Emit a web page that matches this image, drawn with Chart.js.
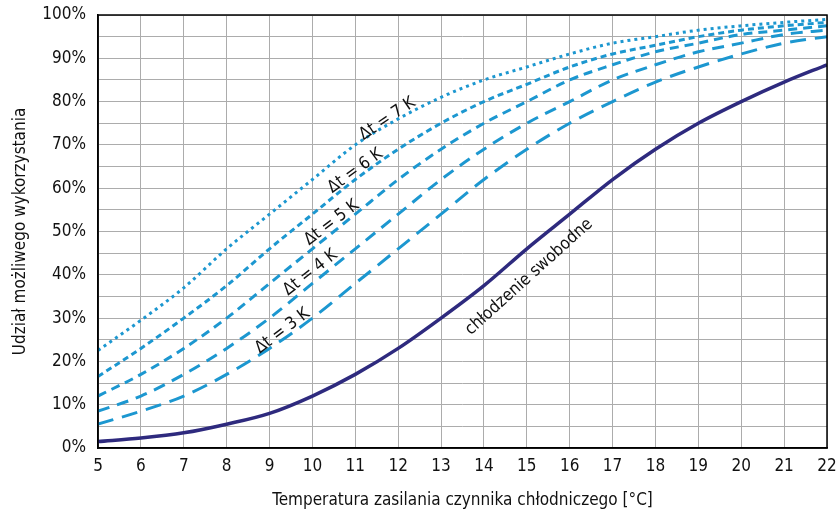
<!DOCTYPE html>
<html>
<head>
<meta charset="utf-8">
<script src="https://cdn.jsdelivr.net/npm/chart.js@4"></script>
<style>
  html, body { margin: 0; padding: 0; background: #fff; }
  #wrap { width: 840px; height: 521px; }
</style>
</head>
<body>
<div id="wrap"><canvas id="chart" width="840" height="521"></canvas></div>
<script>
const temps = [5,6,7,8,9,10,11,12,13,14,15,16,17,18,19,20,21,22];
const dt7 = [22.5,29.5,37,46,54,62,70,76,81,85,88,91,93.5,95,96.5,97.5,98.3,99];
const dt6 = [16.5,23,30,37.5,46,54,62,69,75,80,84,88,91,93,95,96.5,97.5,98.3];
const dt5 = [12,17,23,30,38,46,54,62,69,75,80,85,88.5,91.5,93.5,95.5,96.5,97.5];
const dt4 = [8.5,12,17,23,30,38,46,54,62,69,75,80,85,88.5,91.5,93.5,95.5,96.5];
const dt3 = [5.5,8.5,12,17,23,30,38,46,54,62,69,75,80,84.5,88,91,93.5,95];
const free = [1.5,2.3,3.5,5.5,8,12,17,23,30,37.5,46,54,62,69,75,80,84.5,88.5];

const font = "'Liberation Sans Narrow', 'DejaVu Sans Condensed', 'Liberation Sans', sans-serif";
const blue = '#1c97d0';
const navy = '#2e2a7e';

function pts(vals) { return temps.map((t, i) => ({x: t, y: vals[i]})); }

// rotated labels placed in data coordinates
const labels = [
  {text: 'Δt = 7 K', x: 11.75, y: 76, angle: -34},
  {text: 'Δt = 6 K', x: 11.0, y: 64, angle: -36},
  {text: 'Δt = 5 K', x: 10.45, y: 52, angle: -37},
  {text: 'Δt = 4 K', x: 9.95, y: 40.5, angle: -38},
  {text: 'Δt = 3 K', x: 9.3, y: 27, angle: -37},
  {text: 'chłodzenie swobodne', x: 15.05, y: 39.5, angle: -42}
];

const deco = {
  id: 'deco',
  afterDatasetsDraw(chart) {
    const {ctx, chartArea: a, scales} = chart;
    ctx.save();
    ctx.strokeStyle = '#000';
    ctx.lineWidth = 1.5;
    ctx.strokeRect(a.left, a.top, a.right - a.left, a.bottom - a.top);
    ctx.fillStyle = '#111';
    ctx.font = '17px ' + font;
    ctx.textAlign = 'center';
    ctx.textBaseline = 'middle';
    labels.forEach(l => {
      ctx.save();
      ctx.translate(scales.x.getPixelForValue(l.x), scales.y.getPixelForValue(l.y));
      ctx.rotate(l.angle * Math.PI / 180);
      ctx.fillText(l.text, 0, 0);
      ctx.restore();
    });
    ctx.restore();
  }
};

function line(label, vals, color, width, dash) {
  return {
    label: label, data: pts(vals), borderColor: color, borderWidth: width,
    borderDash: dash, pointRadius: 0, fill: false,
    cubicInterpolationMode: 'monotone'
  };
}

new Chart(document.getElementById('chart'), {
  type: 'line',
  data: {
    datasets: [
      line('Δt = 7 K', dt7, blue, 3, [3, 4]),
      line('Δt = 6 K', dt6, blue, 3, [6, 4]),
      line('Δt = 5 K', dt5, blue, 3, [9, 6]),
      line('Δt = 4 K', dt4, blue, 3, [12, 8]),
      line('Δt = 3 K', dt3, blue, 3, [16, 9]),
      line('chłodzenie swobodne', free, navy, 3.5, [])
    ]
  },
  options: {
    responsive: false,
    animation: false,
    layout: {padding: {left: 6, right: 13, top: 15, bottom: 6}},
    plugins: {legend: {display: false}, tooltip: {enabled: false}},
    scales: {
      x: {
        type: 'linear', min: 5, max: 22,
        ticks: {stepSize: 1, color: '#111', font: {family: font, size: 17}, padding: 8},
        grid: {color: '#acacac', lineWidth: 1, drawTicks: false},
        border: {color: '#000', width: 1.5},
        title: {display: true, text: 'Temperatura zasilania czynnika chłodniczego [°C]',
                color: '#111', font: {family: font, size: 17}, padding: {top: 8}},
        afterFit(s) { s.height = 67; s.paddingLeft = 0; s.paddingRight = 0; }
      },
      y: {
        min: 0, max: 100,
        ticks: {stepSize: 5, autoSkip: false, color: '#111', font: {family: font, size: 17}, padding: 12,
                callback: v => v % 10 === 0 ? v + '%' : ''},
        grid: {color: '#acacac', lineWidth: 1, drawTicks: false},
        border: {color: '#000', width: 1.5},
        title: {display: true, text: 'Udział możliwego wykorzystania',
                color: '#111', font: {family: font, size: 17}, padding: {bottom: 8}},
        afterFit(s) { s.width = 92; s.paddingTop = 0; s.paddingBottom = 0; }
      }
    }
  },
  plugins: [deco]
});
</script>
</body>
</html>
